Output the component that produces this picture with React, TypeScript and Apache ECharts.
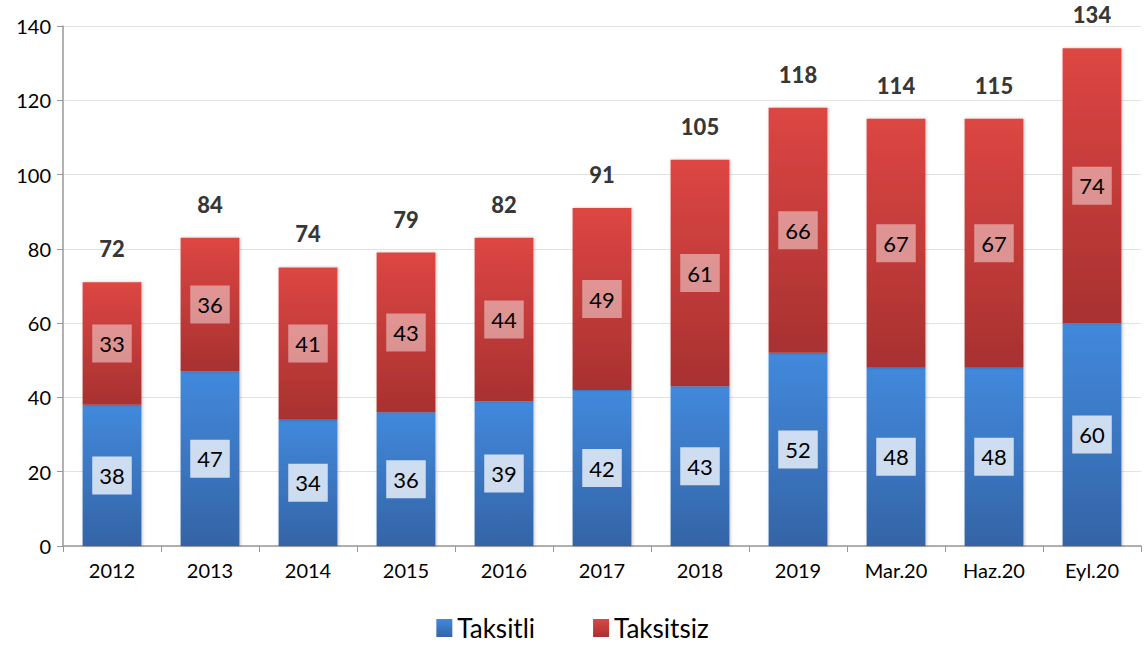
import React, { useEffect, useRef } from "react";
import * as echarts from "echarts";

const categories = ["2012", "2013", "2014", "2015", "2016", "2017", "2018", "2019", "Mar.20", "Haz.20", "Eyl.20"];
const taksitli = [38, 47, 34, 36, 39, 42, 43, 52, 48, 48, 60];
const taksitsiz = [33, 36, 41, 43, 44, 49, 61, 66, 67, 67, 74];
const totals = [72, 84, 74, 79, 82, 91, 105, 118, 114, 115, 134];
const yTicks = { min: 0, max: 140, interval: 20 };

const FONT = "Lato, 'Open Sans', sans-serif";

export default function App() {
  const ref = useRef<HTMLDivElement>(null);
  useEffect(() => {
    if (!ref.current) return;
    const chart = echarts.init(ref.current, null, { renderer: "svg" });
    const blueGrad = new echarts.graphic.LinearGradient(0, 0, 0, 1, [
      { offset: 0, color: "#4289dc" },
      { offset: 1, color: "#3464a6" },
    ]);
    const redGrad = new echarts.graphic.LinearGradient(0, 0, 0, 1, [
      { offset: 0, color: "#dd4643" },
      { offset: 1, color: "#a83130" },
    ]);
    chart.setOption({
      animation: false,
      textStyle: { fontFamily: FONT },
      grid: { left: 63, right: 4, top: 26, bottom: 101 },
      legend: {
        bottom: 1,
        left: "center",
        itemWidth: 16,
        itemHeight: 18,
        itemGap: 58,
        icon: "rect",
        textStyle: { fontSize: 26, color: "#000", fontFamily: FONT },
        data: ["Taksitli", "Taksitsiz"],
      },
      xAxis: {
        type: "category",
        data: categories,
        axisLine: { lineStyle: { color: "#999", width: 1.5 } },
        axisTick: { show: true, length: 6, lineStyle: { color: "#999" } },
        axisLabel: { fontSize: 20, color: "#000", margin: 14, fontFamily: FONT },
      },
      yAxis: {
        type: "value",
        min: yTicks.min,
        max: yTicks.max,
        interval: yTicks.interval,
        axisLine: { show: true, lineStyle: { color: "#999", width: 1.5 } },
        axisTick: { show: true, length: 6, lineStyle: { color: "#999" } },
        splitLine: { lineStyle: { color: "#e2e2e2", width: 1 } },
        axisLabel: { fontSize: 20, color: "#000", margin: 12, fontFamily: FONT },
      },
      series: [
        {
          name: "Taksitli",
          type: "bar",
          stack: "s",
          barWidth: "60%",
          data: taksitli,
          itemStyle: { color: blueGrad, shadowColor: "rgba(0,0,0,0.25)", shadowBlur: 3, shadowOffsetX: 1 },
          label: {
            show: true,
            position: "inside",
            fontSize: 22,
            color: "#000",
            fontFamily: FONT,
            backgroundColor: "rgba(255,255,255,0.75)",
            padding: [9, 7, 7, 7],
          },
        },
        {
          name: "Taksitsiz",
          type: "bar",
          stack: "s",
          barWidth: "60%",
          data: taksitsiz,
          itemStyle: { color: redGrad, shadowColor: "rgba(0,0,0,0.25)", shadowBlur: 3, shadowOffsetX: 1 },
          label: {
            show: true,
            position: "inside",
            fontSize: 22,
            color: "#000",
            fontFamily: FONT,
            backgroundColor: "rgba(255,255,255,0.45)",
            padding: [9, 7, 7, 7],
          },
        },
        {
          name: "Toplam",
          type: "scatter",
          data: taksitli.map((v, i) => v + taksitsiz[i]),
          symbol: "circle",
          symbolSize: 1,
          itemStyle: { color: "rgba(0,0,0,0)" },
          silent: true,
          z: 10,
          label: {
            show: true,
            position: "top",
            distance: 22,
            fontSize: 22,
            fontWeight: 900,
            color: "#000",
            fontFamily: FONT,
            formatter: (p: any) => String(totals[p.dataIndex]),
          },
        },
      ],
    });
    return () => chart.dispose();
  }, []);
  return <div ref={ref} style={{ width: 1145, height: 647, position: "absolute", left: 0, top: 0 }} />;
}
